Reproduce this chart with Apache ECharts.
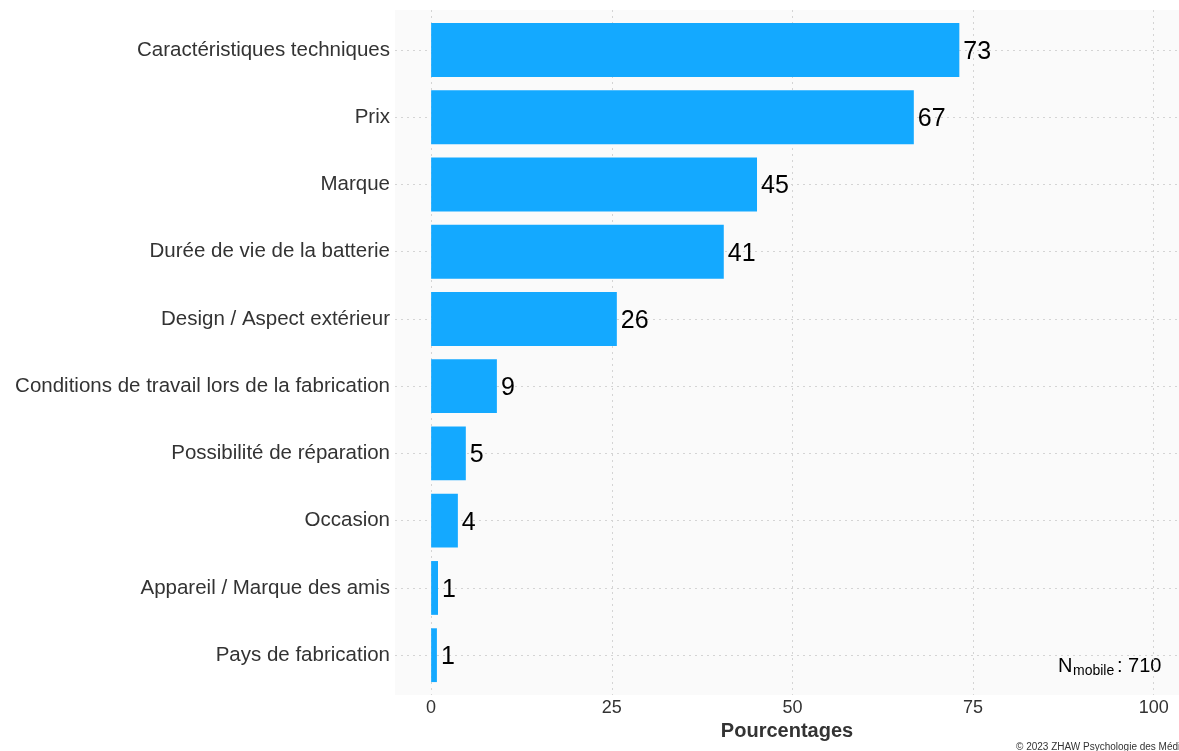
<!DOCTYPE html>
<html>
<head>
<meta charset="utf-8">
<script src="https://cdn.jsdelivr.net/npm/echarts@6/dist/echarts.min.js"></script>
<style>
html,body{margin:0;padding:0;background:#fff;}
#chart{width:1179px;height:751px;}
</style>
</head>
<body>
<div id="chart"></div>
<script>
const categories = [
  "Caractéristiques techniques",
  "Prix",
  "Marque",
  "Durée de vie de la batterie",
  "Design / Aspect extérieur",
  "Conditions de travail lors de la fabrication",
  "Possibilité de réparation",
  "Occasion",
  "Appareil / Marque des amis",
  "Pays de fabrication"
];
const values = [73.1, 66.8, 45.1, 40.5, 25.7, 9.1, 4.8, 3.7, 0.95, 0.8];
const xTicks = [0, 25, 50, 75, 100];
const axisTitle = "Pourcentages";
const nLabel = ["N", "mobile", ": 710"];
const copyright = "© 2023 ZHAW Psychologie des Médias";

const FONT = "'Liberation Sans', Arial, sans-serif";
const grid = {color: '#d4d4d4', width: 1, type: [2, 4]};

const chart = echarts.init(document.getElementById('chart'), null, {renderer: 'canvas'});
chart.setOption({
  animation: false,
  backgroundColor: '#ffffff',
  grid: [
    {left: 395, top: 10, right: 0, height: 685, show: true, backgroundColor: '#fafafa', borderWidth: 0, containLabel: false},
    {left: 395, top: 16.4, right: 0, height: 672.4, containLabel: false}
  ],
  xAxis: [
    {
      type: 'value', gridIndex: 0, min: -5, max: 103.5,
      axisLine: {show: false}, axisTick: {show: false, customValues: xTicks},
      axisLabel: {customValues: xTicks, fontSize: 18, color: '#333333', fontFamily: FONT, margin: 4},
      splitLine: {show: true, lineStyle: grid},
      name: axisTitle, nameLocation: 'middle', nameGap: 16,
      nameTextStyle: {fontSize: 20, fontWeight: 'bold', color: '#333333', fontFamily: FONT}
    },
    {
      type: 'value', gridIndex: 1, min: -5, max: 103.5, show: false,
      splitLine: {show: false}
    }
  ],
  yAxis: [
    {type: 'value', gridIndex: 0, show: false, splitLine: {show: false}},
    {
      type: 'category', gridIndex: 1, data: categories, inverse: true,
      axisLine: {show: false}, axisTick: {show: false, alignWithLabel: true},
      axisLabel: {fontSize: 20.5, color: '#333333', fontFamily: FONT, margin: 5, padding: [3, 0, 0, 0]},
      splitLine: {show: true, alignWithLabel: true, lineStyle: grid}
    }
  ],
  series: [{
    type: 'bar', xAxisIndex: 1, yAxisIndex: 1,
    data: values, barWidth: '80%',
    itemStyle: {color: '#14a9ff'},
    label: {
      show: true, position: 'right', distance: 4, offset: [0, 2],
      fontSize: 25, color: '#000000', fontFamily: FONT,
      formatter: p => Math.round(p.value)
    }
  }],
  graphic: [
    {type: 'text', left: 1058, top: 656, style: {text: nLabel[0], fill: '#000', font: '20px ' + FONT}},
    {type: 'text', left: 1073, top: 664, style: {text: nLabel[1], fill: '#000', font: '14px ' + FONT}},
    {type: 'text', left: 1117, top: 656, style: {text: nLabel[2], fill: '#000', font: '20px ' + FONT}},
    {type: 'text', left: 1016, top: 742, style: {text: copyright, fill: '#333', font: '10px ' + FONT}}
  ]
});
</script>
</body>
</html>
